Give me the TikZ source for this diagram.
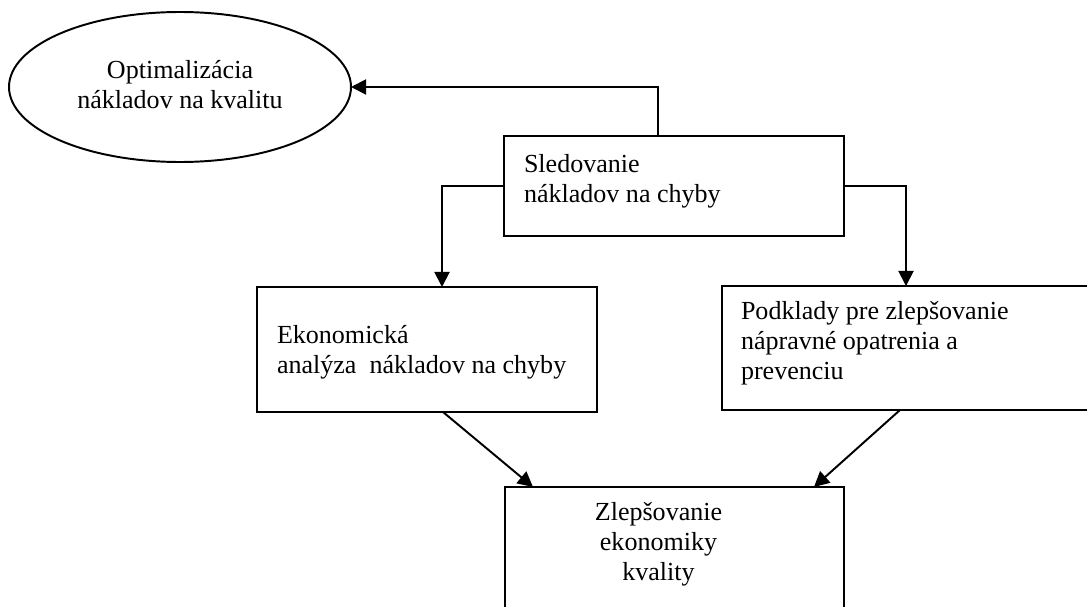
\documentclass[tikz,border=0pt]{standalone}
\usepackage{fontspec}
\setmainfont{Liberation Serif}
\usetikzlibrary{shapes.geometric,arrows.meta,calc}
\newlength\pxu
\setlength\pxu{0.4608pt}
\begin{document}
\begin{tikzpicture}[x=0.4608pt, y=-0.4608pt,
  box/.style={draw, rectangle, line width=0.9pt, inner sep=0pt, outer sep=0pt},
  oval/.style={draw, ellipse, line width=0.9pt, inner sep=0pt, outer sep=0pt},
  lbl/.style={inner sep=0pt, outer sep=0pt, font=\fontsize{12}{14}\selectfont},
  link/.style={line width=0.9pt, -{Triangle[length=7pt,width=7pt]}}]
\useasboundingbox (0,0) rectangle (1087,607);
\clip (0,0) rectangle (1087,607);

% shapes
\node[oval, minimum width=342\pxu, minimum height=150\pxu] (ell) at (180,87) {};
\node[box, minimum width=340\pxu, minimum height=100\pxu] (top) at (674,186) {};
\node[box, minimum width=340\pxu, minimum height=125\pxu] (lb) at (427,349.5) {};
\node[box, minimum width=368\pxu, minimum height=124\pxu] (rb) at (906,348) {};
\node[box, minimum width=339\pxu, minimum height=138\pxu] (bb) at (674.5,556) {};

% texts
\node[lbl, anchor=north, align=center] (tell) at ($(ell.center)+(0,-27)$)
  {Optimalizácia\\nákladov na kvalitu};
\node[lbl, anchor=north west, align=left] (ttop) at ($(top.north west)+(20,18)$)
  {Sledovanie\\nákladov na chyby};
\node[lbl, anchor=north west, align=left] (tlb) at ($(lb.north west)+(20,38)$)
  {Ekonomická\\analýza\ \ nákladov na chyby};
\node[lbl, anchor=north west, align=left] (trb) at ($(rb.north west)+(19,15)$)
  {Podklady pre zlepšovanie\\nápravné opatrenia a\\prevenciu};
\node[lbl, anchor=north, align=center] (tbb) at ($(bb.north)+(-16,15)$)
  {Zlepšovanie\\ekonomiky\\kvality};

% connectors
\draw[link] (top.north) ++(-16,0) |- (ell.east);
\draw[link] (top.west) -| ($(lb.north)+(15,0)$);
\draw[link] (top.east) -| (rb.north);
\draw[link] ($(lb.south)+(16,0)$) -- ($(bb.north west)+(28,0)$);
\draw[link] ($(rb.south)+(-6,0)$) -- ($(bb.north east)+(-30,0)$);
\end{tikzpicture}
\end{document}
